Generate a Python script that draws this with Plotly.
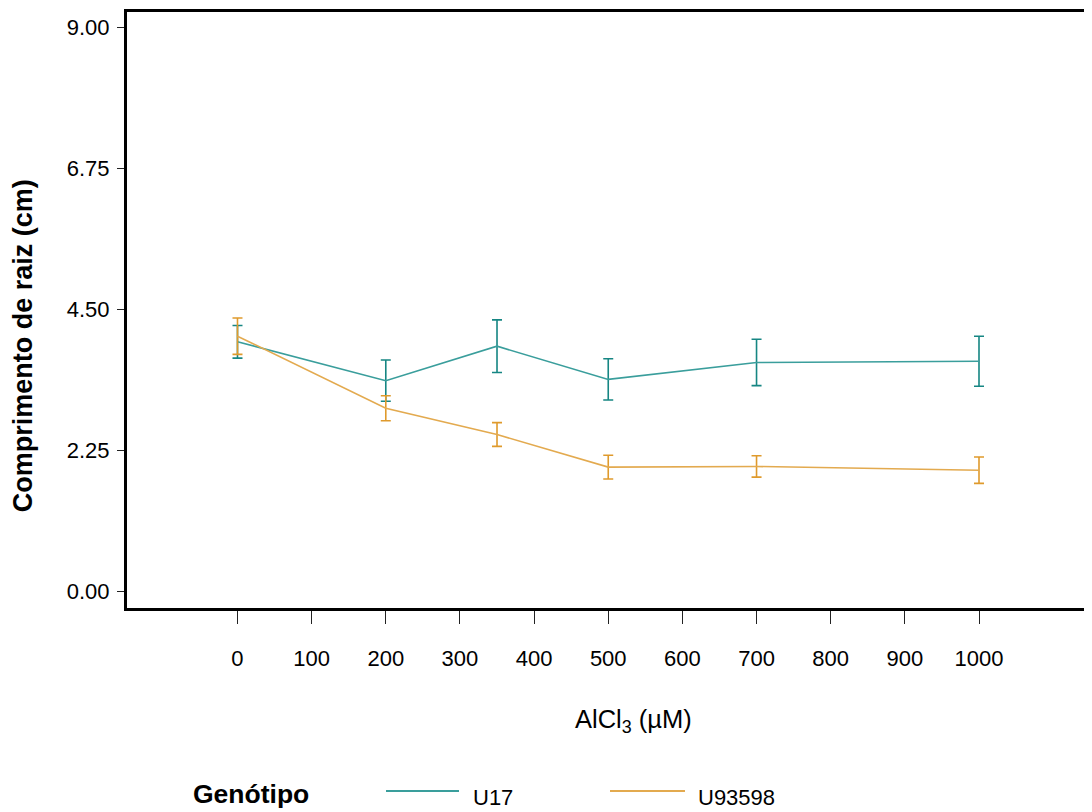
import plotly.graph_objects as go

# ---- data ----
doses = [0, 200, 350, 500, 700, 1000]
u17_mean = [3.98, 3.36, 3.91, 3.38, 3.65, 3.67]
u17_err = [0.26, 0.33, 0.42, 0.33, 0.37, 0.40]
u93598_mean = [4.07, 2.92, 2.50, 1.98, 1.99, 1.93]
u93598_err = [0.29, 0.20, 0.19, 0.19, 0.17, 0.21]
x_ticks = [0, 100, 200, 300, 400, 500, 600, 700, 800, 900, 1000]
y_ticks = [0.00, 2.25, 4.50, 6.75, 9.00]
y_tick_text = ["0.00", "2.25", "4.50", "6.75", "9.00"]
series_names = ["U17", "U93598"]

# the page body adds an 8px margin, so the figure is drawn 8px smaller and
# every position below is given in window pixels minus that offset
OFF = 8
W, H = 1092 - OFF, 812 - OFF
L, R, T, B = 127 - OFF, 4, 9 - OFF, 204
PW, PH = W - L - R, H - T - B

TEAL_LINE, TEAL_ERR = "#3A9E9C", "#168683"
ORANGE_LINE, ORANGE_ERR = "#E3AA4F", "#DF9A2C"


def px(x):
    return (x - OFF - L) / PW


def py(y):
    return (H - B - (y - OFF)) / PH


fig = go.Figure()
fig.add_trace(go.Scatter(
    x=doses, y=u17_mean, mode="lines", name=series_names[0],
    line=dict(color=TEAL_LINE, width=1.6),
    error_y=dict(type="data", array=u17_err, visible=True, color=TEAL_ERR,
                 thickness=1.6, width=5),
    showlegend=False))
fig.add_trace(go.Scatter(
    x=doses, y=u93598_mean, mode="lines", name=series_names[1],
    line=dict(color=ORANGE_LINE, width=1.6),
    error_y=dict(type="data", array=u93598_err, visible=True, color=ORANGE_ERR,
                 thickness=1.6, width=5),
    showlegend=False))

tickfont = dict(family="Liberation Sans, Arial", size=22, color="black")

fig.update_xaxes(range=[-149, 1147], tickvals=x_ticks, ticks="outside", ticklen=13,
                 tickwidth=1.2, tickcolor="#222", showline=True, linewidth=3,
                 linecolor="black", mirror=True, showgrid=False, zeroline=False,
                 tickfont=tickfont, ticklabelstandoff=16)
fig.update_yaxes(range=[-0.27, 9.246], tickvals=y_ticks, ticktext=y_tick_text,
                 ticks="outside", ticklen=7, tickwidth=1.2, tickcolor="#222",
                 showline=True, linewidth=3, linecolor="black", mirror=True,
                 showgrid=False, zeroline=False, tickfont=tickfont,
                 ticklabelstandoff=3)

annotations = [
    dict(text="AlCl<sub>3</sub> (µM)", x=px(633), y=py(722), xref="paper", yref="paper",
         showarrow=False, xanchor="center", yanchor="middle",
         font=dict(family="Liberation Sans, Arial", size=25.5, color="black")),
    dict(text="<b>Comprimento de raiz (cm)</b>", x=px(23), y=py(345), xref="paper",
         yref="paper", showarrow=False, textangle=-90, xanchor="center",
         yanchor="middle", font=dict(family="Liberation Sans, Arial", size=27, color="black")),
    dict(text="<b>Genótipo</b>", x=px(191), y=py(795), xref="paper", yref="paper",
         showarrow=False, xanchor="left", yanchor="middle",
         font=dict(family="Liberation Sans, Arial", size=26.5, color="black")),
    dict(text=series_names[0], x=px(471), y=py(798), xref="paper", yref="paper",
         showarrow=False, xanchor="left", yanchor="middle", font=tickfont),
    dict(text=series_names[1], x=px(696), y=py(798), xref="paper", yref="paper",
         showarrow=False, xanchor="left", yanchor="middle", font=tickfont),
]
shapes = [
    dict(type="line", xref="paper", yref="paper", x0=px(386), x1=px(459),
         y0=py(792), y1=py(792), line=dict(color=TEAL_LINE, width=2)),
    dict(type="line", xref="paper", yref="paper", x0=px(610), x1=px(685),
         y0=py(792), y1=py(792), line=dict(color=ORANGE_LINE, width=2)),
]

fig.update_layout(width=W, height=H, margin=dict(l=L, r=R, t=T, b=B, pad=0),
                  plot_bgcolor="white", paper_bgcolor="white",
                  annotations=annotations, shapes=shapes)

fig.write_html("out.html")
